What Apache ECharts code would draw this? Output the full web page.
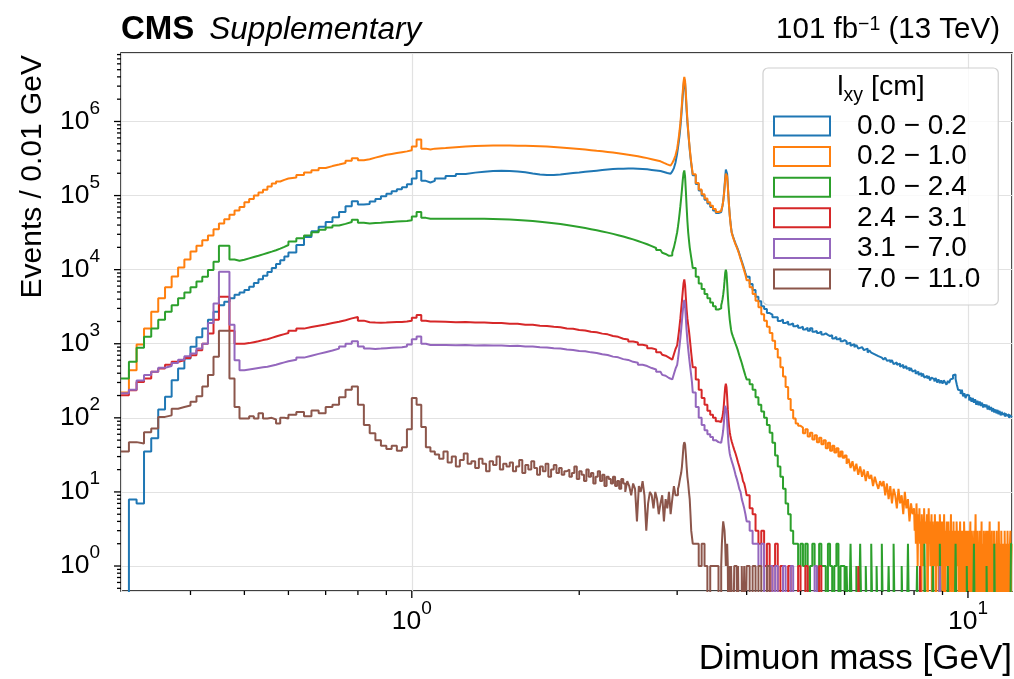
<!DOCTYPE html>
<html>
<head>
<meta charset="utf-8">
<script src="https://cdn.jsdelivr.net/npm/echarts@6/dist/echarts.min.js"></script>
<style>html,body{margin:0;padding:0;background:#fff}#c{width:1014px;height:679px}</style>
</head>
<body>
<div id="c"></div>
<script>
// ---------------- DATA ----------------
const seriesNames = ['0.0 \u2212 0.2', '0.2 \u2212 1.0', '1.0 \u2212 2.4', '2.4 \u2212 3.1', '3.1 \u2212 7.0', '7.0 \u2212 11.0'];

// bin layout: [first low edge (GeV), bin width (GeV), number of bins]
const binSegments = [[0.30,0.01,30],[0.60,0.02,25],[1.10,0.05,34],[2.80,0.02,10],[3.00,0.01,20],[3.20,0.04,10],[3.60,0.01,16],[3.76,0.02,12],[4.00,0.05,160]];
const binSegmentsOrange = [[0.30,0.01,30],[0.60,0.02,25],[1.10,0.05,34],[2.80,0.02,10],[3.00,0.01,20],[3.20,0.04,10],[3.60,0.01,16],[3.76,0.02,12],[4.00,0.05,80],[8.00,0.02,200]];
const binSegmentsBrown = [[0.30,0.01,30],[0.60,0.02,25],[1.10,0.02,85],[2.80,0.02,10],[3.00,0.01,20],[3.20,0.04,10],[3.60,0.01,16],[3.76,0.02,12],[4.00,0.05,160]];

// events per bin, lxy 0.0-0.2 cm
const counts_0p0_0p2 = [
  0, 7.9, 7, 35, 53, 130, 192, 322, 465, 630, 910, 1220, 1600, 2100, 2700, 3300, 3700, 4100, 4600, 4900, 5300, 5900, 6600, 7400, 8300, 9300, 10500, 11900, 13400, 15100,
  17000, 21500, 27500, 33000, 38000, 44000, 51000, 60000, 72000, 84000, 76000, 77000, 83000, 90000, 98000, 106000, 114000, 122000, 130000, 142000, 170000, 215000, 158000, 150000, 158000,
  170000, 183000, 195000, 204000, 210000, 214000, 216000, 215000, 212000, 206000, 199000, 193000, 190000, 190000, 193000, 197000, 201000, 205000, 209000, 213000, 217000, 221000, 225000, 228000, 230000, 231000, 232000, 232000, 231000, 229000, 226000, 222000, 218000, 214000,
  211000, 208000, 205000, 202000, 199000, 197000, 200000, 212000, 235000, 280000,
  370000, 440000, 530000, 650000, 830000, 1120000, 1550000, 2200000, 3000000, 3700000, 3300000, 2200000, 1400000, 980000, 730000, 550000, 420000, 330000, 270000, 225000,
  188000, 143000, 117000, 100000, 88000, 78000, 70000, 63000, 58000, 60000,
  63000, 67000, 73000, 84000, 102000, 132000, 175000, 225000, 236000, 195000, 140000, 97000, 70000, 54000, 44000, 37000,
  32000, 28000, 25000, 22500, 20500, 18500, 16500, 14500, 13000, 11500, 10200, 9000,
  8000, 6400, 5300, 4300, 3750, 3200, 2950, 2600, 2480, 2280, 2280, 2020, 2120, 1900, 1990, 1820, 1880, 1720, 1780, 1640,
  1700, 1560, 1640, 1500, 1620, 1450, 1490, 1400, 1460, 1330, 1380, 1320, 1270, 1300, 1180, 1240, 1150, 1190, 1080, 1120,
  1080, 990, 1030, 940, 990, 900, 960, 860, 900, 880, 820, 860, 760, 810, 760, 720, 760, 680, 720, 650,
  680, 610, 650, 590, 600, 560, 600, 530, 560, 520, 540, 490, 520, 470, 500, 460, 470, 430, 470, 420,
  440, 395, 420, 380, 400, 360, 395, 350, 370, 340, 365, 320, 350, 330, 310, 345, 300, 330, 295, 320,
  290, 320, 300, 280, 315, 295, 330, 340, 375, 385, 335, 280, 240, 235, 210, 240, 195, 215, 185, 205,
  200, 172, 190, 165, 185, 160, 178, 150, 170, 148, 166, 145, 160, 138, 152, 140, 150, 130, 145, 128,
  140, 122, 135, 118, 130, 115, 128, 112, 124, 108, 120, 110, 116, 104, 114, 106, 112, 100, 108, 102
];

// lxy 0.2-1.0 cm
const counts_0p2_1p0 = [
  220, 440, 980, 1600, 2700, 4100, 5800, 8100, 10700, 13700, 17600, 21000, 25000, 29000, 35000, 42000, 48000, 55000, 63000, 70000, 81000, 90000, 100000, 110000, 120000, 133000, 145000, 155000, 163000, 170000,
  175000, 190000, 205000, 220000, 235000, 250000, 262000, 275000, 295000, 320000, 300000, 310000, 325000, 340000, 355000, 365000, 375000, 385000, 395000, 410000, 460000, 570000, 430000, 420000, 430000,
  440000, 450000, 458000, 465000, 470000, 473000, 474000, 474000, 472000, 470000, 466000, 462000, 458000, 452000, 446000, 440000, 433000, 426000, 418000, 410000, 402000, 395000, 388000, 380000, 372000, 364000, 356000, 348000, 340000, 330000, 320000, 310000, 300000, 290000,
  282000, 276000, 270000, 264000, 258000, 254000, 258000, 275000, 305000, 350000,
  430000, 510000, 610000, 750000, 950000, 1250000, 1750000, 2500000, 3400000, 4000000, 3500000, 2400000, 1550000, 1050000, 760000, 570000, 435000, 345000, 280000, 232000,
  194000, 148000, 121000, 104000, 91000, 81000, 73000, 66000, 60000, 62000,
  64000, 68000, 74000, 84000, 100000, 126000, 162000, 198000, 205000, 180000, 134000, 95000, 70000, 54000, 43000, 36000,
  31500, 27500, 24500, 22000, 20000, 18000, 16000, 14000, 12500, 11000, 9700, 8500,
  7200, 5800, 4700, 3800, 3100, 2500, 2050, 1700, 1400, 1100, 850, 650, 480, 360, 260, 180, 128, 98, 84, 78,
  74, 62, 70, 56, 63, 51, 58, 47, 54, 44, 50, 39, 46, 36, 42, 34, 39, 30, 35, 29,
  31, 24, 28, 21, 26, 19, 24, 17, 22, 16, 20, 14, 19, 15, 17, 12, 16, 13, 11, 14,
  12, 14, 9, 13, 8, 12, 7, 11, 9, 6, 11, 7, 9, 5, 10, 6, 8, 4, 7, 5,
  // 8.00 - 12.00 GeV in 0.02 GeV bins
  6, 3, 5, 2, 7, 4, 1, 5, 3, 6, 2, 4, 0, 5, 3, 4, 1, 6, 3, 2,
  4, 2, 5, 0, 3, 6, 2, 4, 1, 3, 5, 0, 4, 2, 3, 1, 5, 2, 0, 4,
  3, 1, 4, 2, 0, 5, 3, 1, 2, 4, 0, 3, 2, 5, 1, 0, 3, 2, 4, 1,
  2, 4, 0, 3, 1, 2, 5, 0, 3, 2, 1, 4, 0, 2, 3, 1, 0, 4, 2, 3,
  1, 3, 0, 2, 4, 1, 2, 0, 3, 1, 2, 0, 4, 2, 1, 3, 0, 2, 1, 3,
  2, 0, 3, 1, 2, 4, 0, 1, 3, 2, 0, 2, 1, 3, 0, 2, 5, 1, 0, 2,
  3, 1, 0, 2, 1, 3, 2, 0, 1, 4, 0, 2, 1, 0, 3, 2, 1, 0, 2, 3,
  1, 2, 0, 3, 1, 0, 2, 4, 1, 0, 2, 1, 3, 0, 1, 2, 0, 3, 1, 2,
  0, 2, 1, 3, 0, 1, 2, 0, 4, 1, 0, 2, 1, 0, 3, 1, 2, 0, 1, 2,
  1, 0, 3, 1, 2, 0, 1, 2, 0, 3, 1, 0, 2, 1, 0, 2, 3, 0, 1, 2
];

// lxy 1.0-2.4 cm
const counts_1p0_2p4 = [
  340, 570, 880, 1240, 1600, 2100, 2700, 3300, 4100, 4900, 5800, 6900, 8000, 9900, 12800, 21000, 21000, 13700, 13200, 13600, 14200, 14800, 15400, 16100, 16800, 17500, 18300, 19200, 20300, 21500,
  24000, 26500, 29000, 32000, 34500, 37000, 39500, 41500, 44000, 47000, 43000, 42000, 42500, 43000, 43500, 44000, 44500, 45000, 45500, 46500, 52000, 60000, 50000, 48500, 48500,
  48500, 48700, 48800, 48800, 48600, 48300, 47900, 47400, 46800, 46100, 45300, 44400, 43400, 42300, 41200, 40000, 38800, 37600, 36400, 35200, 34000, 32800, 31600, 30400, 29200, 28000, 26800, 25600, 24400, 23200, 22000, 20800, 19600, 18400,
  17500, 16900, 16300, 15800, 15400, 15100, 15500, 17000, 20000, 25000,
  32000, 38000, 46000, 57000, 72000, 92000, 120000, 160000, 200000, 218000, 180000, 115000, 70000, 45000, 32000, 25000, 20000, 17000, 14500, 12500,
  10500, 8000, 6500, 5500, 4700, 4100, 3600, 3200, 2900, 3000,
  3300, 3600, 4000, 4600, 5500, 7000, 9000, 10000, 9000, 6500, 4500, 3300, 2600, 2100, 1800, 1550,
  1400, 1250, 1120, 1000, 900, 800, 700, 620, 550, 480, 420, 370,
  330, 285, 240, 190, 150, 122, 100, 80, 63, 46, 31, 22, 16, 11, 7, 5, 3, 2, 2, 1,
  2, 1, 2, 0, 1, 2, 1, 0, 2, 1, 1, 0, 2, 1, 0, 1, 2, 0, 1, 1,
  0, 1, 0, 2, 0, 0, 1, 0, 2, 0, 0, 1, 0, 0, 2, 0, 0, 1, 0, 0,
  2, 0, 0, 0, 1, 0, 0, 2, 0, 0, 0, 0, 1, 0, 0, 0, 2, 0, 0, 0,
  0, 0, 1, 0, 0, 0, 0, 2, 0, 0, 0, 0, 0, 1, 0, 0, 0, 0, 2, 0,
  0, 0, 0, 0, 1, 0, 0, 0, 0, 0, 2, 0, 0, 0, 0, 0, 0, 0, 0, 1,
  0, 0, 0, 0, 0, 2, 0, 0, 0, 0, 0, 0, 0, 0, 0, 0, 1, 0, 0, 0,
  0, 0, 0, 2, 0, 0, 0, 0, 0, 0, 0, 0, 0, 0, 0, 0, 0, 0, 0, 2
];

// lxy 2.4-3.1 cm
const counts_2p4_3p1 = [
  202, 235, 305, 340, 420, 465, 520, 570, 600, 640, 700, 820, 1000, 1370, 2100, 4300, 4300, 1500, 1000, 1000, 1020, 1050, 1080, 1120, 1150, 1200, 1250, 1300, 1350, 1400,
  1500, 1600, 1680, 1750, 1820, 1900, 1980, 2080, 2200, 2300, 2050, 1950, 1930, 1920, 1930, 1950, 1960, 1970, 1990, 2050, 2250, 2450, 2050, 2000, 2000,
  1980, 1950, 1960, 1930, 1940, 1900, 1900, 1860, 1860, 1810, 1800, 1750, 1740, 1690, 1670, 1610, 1590, 1530, 1510, 1450, 1430, 1370, 1340, 1270, 1240, 1170, 1140, 1070, 1040, 970, 940, 870, 840, 770,
  740, 710, 690, 660, 650, 620, 610, 640, 720, 850,
  950, 1150, 1400, 1750, 2200, 2900, 3800, 5000, 6500, 7400, 6200, 4200, 2900, 2200, 1800, 1500, 1200, 950, 750, 600,
  480, 330, 240, 185, 150, 125, 110, 100, 90, 88,
  92, 98, 105, 120, 150, 200, 260, 290, 260, 190, 130, 95, 75, 64, 57, 52,
  48, 42, 37, 33, 29, 25, 22, 19, 17, 14, 13, 11,
  9, 6, 5, 3, 2, 3, 1, 2, 0, 1, 2, 0, 1, 0, 0, 1, 0, 0, 0, 1,
  0, 0, 1, 0, 0, 0, 0, 0, 1, 0, 0, 0, 0, 0, 0, 0, 0, 0, 0, 0,
  0, 0, 0, 0, 0, 0, 0, 1, 0, 0, 0, 0, 0, 0, 0, 0, 0, 0, 0, 0,
  0, 0, 0, 0, 0, 0, 0, 0, 0, 0, 0, 0, 0, 0, 0, 0, 0, 0, 0, 0,
  0, 0, 0, 0, 1, 0, 0, 0, 0, 0, 0, 0, 0, 0, 0, 0, 0, 0, 0, 0,
  0, 0, 0, 0, 0, 0, 0, 0, 0, 0, 0, 0, 0, 0, 0, 0, 0, 0, 0, 0,
  0, 0, 0, 0, 0, 0, 0, 0, 0, 0, 0, 0, 0, 0, 0, 0, 0, 0, 0, 0,
  0, 0, 0, 0, 0, 0, 0, 0, 0, 0, 0, 0, 0, 0, 0, 0, 0, 0, 0, 0
];

// lxy 3.1-7.0 cm
const counts_3p1_7p0 = [
  214, 240, 320, 380, 420, 475, 500, 550, 610, 680, 740, 860, 1000, 1900, 3500, 9400, 9400, 1800, 600, 440, 450, 460, 470, 480, 490, 505, 520, 540, 560, 580,
  610, 650, 690, 730, 770, 810, 860, 920, 1000, 1080, 920, 860, 850, 860, 870, 880, 890, 900, 920, 980, 1150, 1250, 1000, 960, 960,
  960, 955, 962, 950, 958, 945, 950, 935, 940, 920, 915, 895, 890, 868, 860, 835, 825, 800, 790, 765, 750, 720, 705, 670, 655, 620, 605, 570, 555, 520, 500, 470, 450, 420,
  400, 380, 370, 350, 345, 330, 330, 345, 390, 460,
  520, 620, 760, 940, 1200, 1550, 2050, 2700, 3500, 3900, 3300, 2200, 1500, 1100, 850, 680, 550, 450, 370, 300,
  220, 140, 100, 80, 68, 60, 55, 50, 47, 46,
  48, 52, 58, 68, 85, 115, 145, 150, 125, 90, 62, 46, 38, 33, 30, 28,
  26, 23, 20, 17, 15, 13, 11, 10, 8, 7, 6, 5,
  4, 3, 2, 2, 1, 2, 0, 1, 1, 0, 1, 0, 0, 1, 0, 0, 1, 0, 0, 0,
  0, 0, 0, 0, 0, 0, 1, 0, 0, 0, 0, 0, 0, 0, 0, 0, 0, 0, 0, 0,
  0, 0, 0, 0, 0, 0, 0, 0, 0, 0, 0, 0, 0, 0, 0, 0, 0, 0, 0, 0,
  0, 0, 0, 0, 0, 0, 0, 0, 0, 0, 0, 0, 0, 0, 0, 0, 0, 0, 0, 0,
  0, 0, 0, 0, 0, 0, 0, 0, 0, 0, 0, 0, 0, 0, 0, 0, 0, 0, 1, 0,
  0, 0, 0, 0, 0, 0, 0, 0, 0, 0, 0, 0, 0, 0, 0, 0, 0, 0, 0, 0,
  0, 0, 0, 0, 0, 0, 0, 0, 0, 0, 0, 0, 0, 0, 0, 0, 0, 0, 0, 0,
  0, 0, 0, 0, 0, 0, 0, 0, 0, 0, 0, 0, 0, 0, 0, 0, 0, 0, 0, 0
];

// lxy 7.0-11.0 cm
const counts_7p0_11p0 = [
  35, 47, 45, 64, 72, 103, 108, 133, 140, 147, 165, 195, 265, 380, 670, 1500, 1500, 340, 140, 98, 98, 105, 98, 115, 98, 100, 95, 84, 100, 98,
  110, 120, 105, 126, 115, 140, 150, 190, 240, 265, 150, 80, 62, 50, 42, 38, 42, 36, 40, 70, 185, 150, 75, 40, 35,
  32, 28, 35, 25, 30, 22, 27, 33, 24, 26,
  21, 28, 24, 19, 26, 23, 30, 20, 24, 22,
  25, 19, 22, 27, 18, 23, 20, 26, 21, 17,
  22, 19, 24, 16, 20, 23, 18, 21, 17, 19,
  20, 16, 18, 22, 15, 19, 17, 14, 20, 16,
  18, 13, 16, 19, 14, 17, 12, 16, 15, 13,
  16, 12, 14, 11, 15, 13, 10, 14, 12, 9,
  13, 11, 4, 12, 10, 14, 9, 3, 7, 10,
  9, 6, 10, 8, 5,
  7, 9, 4, 8, 6, 10, 5, 8, 12, 9,
  9, 11, 12, 14, 16, 18, 22, 30, 42, 47, 44, 32, 22, 16, 13, 10, 8, 5, 3, 3,
  2, 2, 1, 2, 1, 0, 1, 1, 1, 0,
  1, 2, 3, 4, 4, 3, 2, 1, 1, 2, 1, 0, 1, 1, 0, 1,
  1, 0, 1, 1, 0, 1, 0, 0, 1, 0, 1, 0,
  1, 0, 1, 0, 1, 0, 0, 1, 0, 0, 0, 0, 0, 0, 0, 0, 0, 0, 0, 0,
  0, 0, 0, 0, 0, 0, 0, 0, 0, 0, 0, 0, 0, 0, 0, 0, 0, 0, 0, 0,
  0, 0, 0, 0, 0, 0, 0, 0, 0, 0, 0, 0, 0, 0, 0, 0, 0, 0, 0, 0,
  0, 0, 0, 0, 0, 0, 0, 0, 0, 0, 0, 0, 0, 0, 0, 0, 0, 0, 0, 0,
  0, 0, 0, 0, 0, 0, 0, 0, 0, 0, 0, 0, 0, 0, 0, 0, 0, 0, 0, 0,
  0, 0, 0, 0, 0, 0, 0, 0, 0, 0, 0, 0, 0, 0, 0, 0, 0, 0, 0, 0,
  0, 0, 0, 0, 0, 0, 0, 0, 0, 0, 0, 0, 0, 0, 0, 0, 0, 0, 0, 0,
  0, 0, 0, 0, 0, 0, 0, 0, 0, 0, 0, 0, 0, 0, 0, 0, 0, 0, 0, 0
];

const allCounts = [counts_0p0_0p2, counts_0p2_1p0, counts_1p0_2p4, counts_2p4_3p1, counts_3p1_7p0, counts_7p0_11p0];
const allSegments = [binSegments, binSegmentsOrange, binSegments, binSegments, binSegments, binSegmentsBrown];

// axis ticks
const xMajorTicks = [1, 10];
const xMinorTicks = [0.4, 0.5, 0.6, 0.7, 0.8, 0.9, 2, 3, 4, 5, 6, 7, 8, 9];
const yMajorTicks = [1, 10, 100, 1000, 10000, 100000, 1000000];
const yMinorTicks = [0.5, 0.6, 0.7, 0.8, 0.9];
[1, 10, 100, 1000, 10000, 100000, 1000000].forEach(d => { for (let m = 2; m <= 9; m++) if (m * d < 8.4e6) yMinorTicks.push(m * d); });

// ---------------- STYLE / LAYOUT ----------------
const FONT = "'Liberation Sans', Arial, Helvetica, sans-serif";
const COLORS = ['#1f77b4', '#ff7f0e', '#2ca02c', '#d62728', '#9467bd', '#8c564b'];
const X_MIN = 0.3, X_MAX = 12, Y_MIN = 0.46, Y_MAX = 8.4e6;
const FLOOR = 0.05; // empty bins drawn below the axis (log scale)

function buildSeriesData(segments, counts) {
  const pts = [];
  let k = 0, end = 0;
  segments.forEach(([start, width, n]) => {
    for (let i = 0; i < n; i++) pts.push([+(start + i * width).toFixed(4), counts[k++]]);
    end = start + n * width;
  });
  pts.push([+end.toFixed(4), counts[counts.length - 1]]);
  if (k !== counts.length) console.warn('bin/count mismatch', k, counts.length);
  return pts.map(([m, c]) => [m, c > 0 ? c : FLOOR]);
}

function tickSeries(data, dir) {
  return {
    type: 'custom', silent: true, clip: false, z: 10, animation: false,
    data: data,
    renderItem: function (params, api) {
      const p = api.coord([api.value(0), api.value(1)]);
      const len = api.value(2);
      const shape = dir === 'x'
        ? { x1: p[0], y1: p[1], x2: p[0], y2: p[1] + len }
        : { x1: p[0], y1: p[1], x2: p[0] - len, y2: p[1] };
      return { type: 'line', shape: shape, style: { stroke: '#000', lineWidth: 1.3 } };
    }
  };
}

function powLabel(v) {
  const e = Math.log10(v);
  if (Math.abs(e - Math.round(e)) > 1e-6) return '';
  return '{b|10}{s|' + Math.round(e) + '}';
}

const lineSeries = seriesNames.map((name, i) => ({
  name: name,
  type: 'line',
  step: 'end',
  showSymbol: false,
  symbol: 'none',
  clip: true,
  animation: false,
  z: 2 + i * 0.01,
  itemStyle: { color: COLORS[i] },
  lineStyle: { color: COLORS[i], width: 2 },
  data: buildSeriesData(allSegments[i], allCounts[i])
}));

const chart = echarts.init(document.getElementById('c'), null, { renderer: 'canvas' });
chart.setOption({
  animation: false,
  backgroundColor: '#fff',
  textStyle: { fontFamily: FONT },
  grid: { left: 121, right: 2, top: 53, bottom: 88, show: true, borderColor: '#000', borderWidth: 1.5, backgroundColor: 'rgba(0,0,0,0)', containLabel: false, outerBoundsMode: 'none' },
  xAxis: {
    type: 'log', logBase: 10, min: X_MIN, max: X_MAX,
    axisLine: { show: false },
    axisTick: { show: false },
    minorTick: { show: false },
    splitLine: { show: true, lineStyle: { color: '#e2e2e2', width: 1.2 } },
    axisLabel: {
      margin: 8, color: '#000', formatter: powLabel,
      rich: {
        b: { fontSize: 26.5, fontFamily: FONT, color: '#000', padding: [9, 0, 0, 0] },
        s: { fontSize: 19, fontFamily: FONT, color: '#000', verticalAlign: 'top' }
      }
    }
  },
  yAxis: {
    type: 'log', logBase: 10, min: Y_MIN, max: Y_MAX,
    axisLine: { show: false },
    axisTick: { show: false },
    minorTick: { show: false },
    splitLine: { show: true, lineStyle: { color: '#e2e2e2', width: 1.2 } },
    axisLabel: {
      margin: 21, color: '#000', formatter: powLabel,
      rich: {
        b: { fontSize: 26.5, fontFamily: FONT, color: '#000', padding: [9, 0, 9, 0] },
        s: { fontSize: 19, fontFamily: FONT, color: '#000', verticalAlign: 'top' }
      }
    }
  },
  legend: {
    orient: 'vertical', left: 763, top: 68,
    icon: 'emptyRect', itemWidth: 56, itemHeight: 19, itemGap: 2.6,
    padding: [44, 18, 12, 10],
    backgroundColor: 'rgba(255,255,255,0.8)', borderColor: '#d0d0d0', borderWidth: 1.2, borderRadius: 5,
    selectedMode: false,
    textStyle: { fontFamily: FONT, fontSize: 28, color: '#000', padding: [0, 0, 0, 22] },
    data: seriesNames
  },
  graphic: [
    { type: 'text', x: 121, y: 30, z: 100, style: { text: '{c|CMS}{i|Supplementary}', verticalAlign: 'middle', align: 'left',
      rich: { c: { fontFamily: FONT, fontWeight: 'bold', fontSize: 33, fill: '#000' }, i: { fontFamily: FONT, fontStyle: 'italic', fontSize: 31.5, fill: '#000', padding: [0, 0, 0, 15] } } } },
    { type: 'text', x: 1000, y: 30, z: 100, style: { text: '{a|101 fb}{s|\u22121}{a| (13 TeV)}', verticalAlign: 'middle', align: 'right',
      rich: { a: { fontFamily: FONT, fontSize: 29.5, fill: '#000' }, s: { fontFamily: FONT, fontSize: 19.5, fill: '#000', verticalAlign: 'top' } } } },
    { type: 'text', x: 1012, y: 659, z: 100, style: { text: 'Dimuon mass [GeV]', fontFamily: FONT, fontSize: 35, fill: '#000', align: 'right', verticalAlign: 'middle' } },
    { type: 'text', x: 33, y: 55, z: 100, rotation: Math.PI / 2, style: { text: 'Events / 0.01 GeV', fontFamily: FONT, fontSize: 30, fill: '#000', align: 'right', verticalAlign: 'middle' } },
    { type: 'text', x: 881, y: 89, z: 100, style: { text: '{a|l}{s|xy}{a| [cm]}', align: 'center', verticalAlign: 'middle',
      rich: { a: { fontFamily: FONT, fontSize: 28.5, fill: '#000', padding: [0, 0, 4, 0] }, s: { fontFamily: FONT, fontSize: 19.5, fill: '#000', verticalAlign: 'bottom' } } } }
  ],
  series: lineSeries.concat([
    tickSeries(xMajorTicks.map(v => [v, Y_MIN, 7]), 'x'),
    tickSeries(xMinorTicks.map(v => [v, Y_MIN, 4]), 'x'),
    tickSeries(yMajorTicks.map(v => [X_MIN, v, 7]), 'y'),
    tickSeries(yMinorTicks.map(v => [X_MIN, v, 4]), 'y')
  ])
});
</script>
</body>
</html>
